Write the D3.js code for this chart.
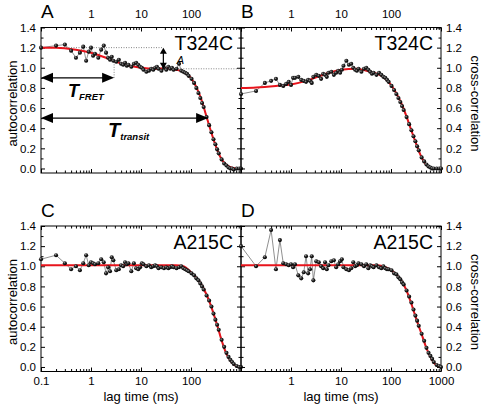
<!DOCTYPE html>
<html><head><meta charset="utf-8">
<script src="https://cdn.jsdelivr.net/npm/d3@7"></script>
<style>html,body{margin:0;padding:0;background:#fff;}svg{display:block;font-family:"Liberation Sans",Arial,sans-serif;}</style>
</head><body><svg id="c" width="482" height="406"></svg>
<script>
// ---- data ----
const lagTimes = [0.1,0.2,0.3,0.4,0.5,0.6,0.7,0.8,0.9,1.0,1.1,1.2,1.4,1.6,1.8,2.0,2.2,2.4,2.6,2.8,3.2,3.6,4.0,4.4,4.8,5.2,5.6,6.4,7.2,8.0,8.8,9.6,10.4,11.2,12.8,14.4,16,17.6,19.2,20.8,22.4,25.6,28.8,32,35.2,38.4,41.6,44.8,51.2,57.6,64,70.4,76.8,83.2,89.6,102.4,115.2,128,140.8,153.6,166.4,179.2,204.8,230.4,256,281.6,307.2,332.8,358.4,409.6,460.8,512,563.2,614.4,665.6,716.8,819.2,921.6,1000];
const dataA = [1.20,1.22,1.23,1.17,1.10,1.15,1.21,1.07,1.16,1.20,1.12,1.14,1.10,1.18,1.22,1.15,1.10,1.08,1.11,1.07,1.06,1.08,1.04,1.03,1.05,1.02,1.03,1.01,1.04,1.05,1.03,1.01,1.00,0.98,0.96,0.97,0.99,0.98,1.00,1.01,0.99,0.97,1.00,0.98,1.01,0.99,1.00,0.98,0.99,1.04,0.97,0.96,0.95,0.94,0.92,0.89,0.85,0.80,0.75,0.70,0.65,0.61,0.51,0.43,0.36,0.29,0.24,0.19,0.15,0.09,0.05,0.03,0.01,0.00,0.00,-0.01,0.00,0.00,0.00];
const dataB = [0.74,0.77,0.85,0.87,0.89,0.83,0.82,0.84,0.86,0.83,0.90,0.90,0.91,0.88,0.87,0.86,0.88,0.87,0.85,0.91,0.93,0.92,0.89,0.94,0.93,0.91,0.95,0.96,0.93,0.95,0.97,0.95,0.98,1.02,1.07,1.03,1.04,1.00,0.98,0.97,0.99,0.96,0.99,1.00,0.98,0.96,0.94,0.95,0.93,0.95,0.93,0.91,0.90,0.88,0.86,0.82,0.78,0.74,0.70,0.66,0.62,0.58,0.51,0.44,0.38,0.32,0.27,0.22,0.18,0.11,0.07,0.04,0.02,0.01,0.00,0.00,0.00,0.00,0.00];
const dataC = [1.07,1.11,1.03,0.97,1.00,0.96,1.03,1.11,1.01,1.04,1.03,1.02,1.03,1.07,1.04,0.93,0.99,0.95,1.09,1.06,0.96,0.97,1.01,1.00,1.04,1.02,1.03,0.95,1.03,0.98,0.97,0.99,1.03,1.02,1.00,1.01,0.99,1.00,1.01,1.00,0.98,0.99,0.98,0.99,0.98,0.99,1.00,0.99,0.98,0.99,1.00,0.98,0.97,0.96,0.95,0.93,0.91,0.88,0.86,0.83,0.80,0.77,0.71,0.66,0.60,0.53,0.47,0.42,0.37,0.27,0.20,0.14,0.10,0.07,0.05,0.03,0.01,0.00,0.00];
const dataD = [1.20,1.00,1.09,1.36,0.97,1.26,1.03,1.02,1.01,1.02,0.99,1.02,0.91,0.88,0.94,1.10,0.93,0.97,1.10,0.86,1.05,1.04,1.00,0.98,1.04,0.97,1.01,1.05,1.06,0.99,1.02,1.05,1.07,0.99,0.97,0.96,0.98,1.04,1.00,1.01,1.03,1.02,1.00,1.02,0.98,1.01,1.00,0.99,1.01,0.99,0.98,1.00,0.98,0.97,0.97,0.96,0.93,0.92,0.89,0.87,0.84,0.82,0.76,0.70,0.64,0.57,0.51,0.46,0.41,0.33,0.26,0.19,0.14,0.11,0.08,0.05,0.02,0.01,0.00];
const fitTimes = [0.1,0.2,0.5,1,2,3,5,10,20,30,50,70,100,130,160,200,250,300,350,400,500,600,700,800,1000];
const fitA = [1.20,1.20,1.18,1.15,1.10,1.065,1.03,1.00,0.99,0.995,0.98,0.96,0.90,0.80,0.69,0.53,0.37,0.25,0.16,0.10,0.04,0.015,0.005,0,0];
const fitB = [0.80,0.805,0.82,0.835,0.87,0.90,0.94,0.98,0.99,0.975,0.945,0.91,0.83,0.74,0.65,0.53,0.39,0.28,0.19,0.12,0.04,0.01,0,0,0];
const fitC = [1.01,1.01,1.01,1.01,1.01,1.01,1.01,1.01,1.01,1.01,1.01,1.00,0.94,0.88,0.82,0.73,0.61,0.49,0.38,0.28,0.14,0.07,0.03,0.01,0];
const fitD = [1.01,1.01,1.01,1.01,1.01,1.01,1.01,1.01,1.01,1.01,1.01,1.00,0.96,0.915,0.86,0.77,0.64,0.52,0.42,0.34,0.20,0.11,0.05,0.02,0];
const panelLetters = ["A","B","C","D"];
const sampleNames = ["T324C","T324C","A215C","A215C"];
const xDecades = [0.1,1,10,100,1000];
const xMinor = [0.2,0.3,0.4,0.5,0.6,0.7,0.8,0.9,2,3,4,5,6,7,8,9,20,30,40,50,60,70,80,90,200,300,400,500,600,700,800,900];
const yMajor = [0,0.2,0.4,0.6,0.8,1.0,1.2,1.4];
const yMinor = [0.1,0.3,0.5,0.7,0.9,1.1,1.3];
const topLabels = [1,10,100];
const bottomLabelsC = [0.1,1,10,100];
const bottomLabelsD = [1,10,100,1000];
// annotation values (panel A), in data units
const dotted = [[0.1,1.2,28,1.2],[28,0.99,1000,0.99],[2.9,0.9,2.9,1.06]];
const arrowFRET = [0.1,2.9,0.9];
const arrowTransit = [0.1,220,0.5];
const arrowAmp = [28,1.2,0.99];

const svg = d3.select("#c");
const defs = svg.append("defs");
const grad = defs.append("radialGradient").attr("id","ball").attr("cx","38%").attr("cy","35%").attr("r","65%");
grad.append("stop").attr("offset","0%").attr("stop-color","#9a9a9a");
grad.append("stop").attr("offset","45%").attr("stop-color","#222");
grad.append("stop").attr("offset","100%").attr("stop-color","#000");

const W = 200, H = 145.5;
const panels = [
  {left:41, top:27.5, data:dataA, fit:fitA, side:"left", top_labels:true, bottom:null},
  {left:241, top:27.5, data:dataB, fit:fitB, side:"right", top_labels:true, bottom:null},
  {left:41, top:226, data:dataC, fit:fitC, side:"left", top_labels:false, bottom:bottomLabelsC},
  {left:241, top:226, data:dataD, fit:fitD, side:"right", top_labels:false, bottom:bottomLabelsD}
];
const fmt = d => d < 1 ? String(d) : d3.format("d")(d);
const yfmt = d3.format(".1f");
const FS = 11.5;

panels.forEach((p,i) => {
  const x = d3.scaleLog().domain([0.1,1000]).range([p.left, p.left+W]);
  const y = d3.scaleLinear().domain([-0.045,1.4]).range([p.top+H, p.top]);
  const g = svg.append("g");
  function ax(gen, tr, vals, size, labels, pad){
    const a = g.append("g").attr("transform",tr)
      .call(gen.tickValues(vals).tickSizeInner(size).tickSizeOuter(0).tickPadding(pad||0).tickFormat(labels ? labels : ""));
    a.select(".domain").remove();
    a.selectAll("line").attr("stroke","#000").attr("stroke-width",1);
    a.attr("font-family",null).attr("font-size",FS);
    a.selectAll("text").attr("fill","#000");
    return a;
  }
  ax(d3.axisBottom(x), `translate(0,${p.top+H})`, xDecades, -4);
  ax(d3.axisBottom(x), `translate(0,${p.top+H})`, xMinor, -2.5);
  ax(d3.axisTop(x), `translate(0,${p.top})`, xDecades, -4);
  ax(d3.axisTop(x), `translate(0,${p.top})`, xMinor, -2.5);
  ax(d3.axisLeft(y), `translate(${p.left},0)`, yMajor, -4);
  ax(d3.axisLeft(y), `translate(${p.left},0)`, yMinor, -2.5);
  ax(d3.axisRight(y), `translate(${p.left+W},0)`, yMajor, -4);
  ax(d3.axisRight(y), `translate(${p.left+W},0)`, yMinor, -2.5);
  if (p.side === "left") ax(d3.axisLeft(y), `translate(${p.left},0)`, yMajor, 0, yfmt, 5);
  else ax(d3.axisRight(y), `translate(${p.left+W},0)`, yMajor, 0, yfmt, 5);
  if (p.top_labels) ax(d3.axisTop(x), `translate(0,${p.top})`, topLabels, 0, fmt, 10);
  if (p.bottom) ax(d3.axisBottom(x), `translate(0,${p.top+H})`, p.bottom, 0, fmt, 5.3);
  g.append("rect").attr("x",p.left).attr("y",p.top).attr("width",W).attr("height",H)
    .attr("fill","none").attr("stroke","#000").attr("stroke-width",1);

  if (i === 0) {
    dotted.forEach(d => g.append("line").attr("x1",x(d[0])).attr("y1",y(d[1])).attr("x2",x(d[2])).attr("y2",y(d[3]))
      .attr("stroke","#666").attr("stroke-width",0.8).attr("stroke-dasharray","1,1.5"));
  }

  const pts = lagTimes.map((t,k) => [x(t), y(p.data[k])]);
  g.append("path").attr("d", d3.line()(pts)).attr("fill","none").attr("stroke","#444").attr("stroke-width",0.6);
  const fitPts = fitTimes.map((t,k) => [x(t), y(p.fit[k])]);
  g.append("path").attr("d", d3.line().curve(d3.curveMonotoneX)(fitPts)).attr("fill","none").attr("stroke","#e8141c").attr("stroke-width",2);
  g.selectAll("circle.pt").data(pts).join("circle").attr("class","pt")
    .attr("cx",d=>d[0]).attr("cy",d=>d[1]).attr("r",2.05).attr("fill","url(#ball)");

  if (i === 0) {
    function hArrow(a, hl, hw) {
      const x1 = x(a[0]), x2 = x(a[1]), yy = y(a[2]);
      g.append("line").attr("x1",x1+hl-1).attr("x2",x2-hl+1).attr("y1",yy).attr("y2",yy).attr("stroke","#000").attr("stroke-width",1.2);
      g.append("path").attr("d",`M${x1},${yy}L${x1+hl},${yy-hw}L${x1+hl},${yy+hw}Z`).attr("fill","#000");
      g.append("path").attr("d",`M${x2},${yy}L${x2-hl},${yy-hw}L${x2-hl},${yy+hw}Z`).attr("fill","#000");
    }
    hArrow(arrowFRET, 12, 5);
    hArrow(arrowTransit, 12, 5);
    const ax_ = x(arrowAmp[0]), ya = y(arrowAmp[1]), yb = y(arrowAmp[2]);
    g.append("line").attr("x1",ax_).attr("x2",ax_).attr("y1",ya+5).attr("y2",yb-5).attr("stroke","#000").attr("stroke-width",1.2);
    g.append("path").attr("d",`M${ax_},${ya}L${ax_-3.5},${ya+6}L${ax_+3.5},${ya+6}Z`).attr("fill","#000");
    g.append("path").attr("d",`M${ax_},${yb}L${ax_-3.5},${yb-6}L${ax_+3.5},${yb-6}Z`).attr("fill","#000");
    g.append("text").attr("x",x(52)).attr("y",y(1.035)).attr("font-size",11).attr("font-style","italic").text("A");
    const t1 = g.append("text").attr("x",68).attr("y",97).attr("font-weight","bold").attr("font-style","italic");
    t1.append("tspan").attr("font-size",18).text("T");
    t1.append("tspan").attr("font-size",9.5).attr("dy",3).text("FRET");
    const t2 = g.append("text").attr("x",108).attr("y",137).attr("font-weight","bold").attr("font-style","italic");
    t2.append("tspan").attr("font-size",20).text("T");
    t2.append("tspan").attr("font-size",9.5).attr("dy",3).text("transit");
  }

  svg.append("text").attr("x",p.left).attr("y",p.top-9.5).attr("font-size",19).text(panelLetters[i]);
  svg.append("text").attr("x",p.left+W-8).attr("y",p.top+22.5).attr("font-size",19.5).attr("text-anchor","end").text(sampleNames[i]);
  const cy = p.top + 76;
  if (p.side === "left") {
    svg.append("text").attr("transform",`translate(17,${cy}) rotate(-90)`).attr("text-anchor","middle").attr("font-size",13).text("autocorrelation");
  } else {
    svg.append("text").attr("transform",`translate(471,${cy}) rotate(90)`).attr("text-anchor","middle").attr("font-size",13).text("cross-correlation");
  }
  if (p.bottom) {
    svg.append("text").attr("x",p.left+100).attr("y",401).attr("text-anchor","middle").attr("font-size",13).text("lag time (ms)");
  }
});
</script></body></html>
